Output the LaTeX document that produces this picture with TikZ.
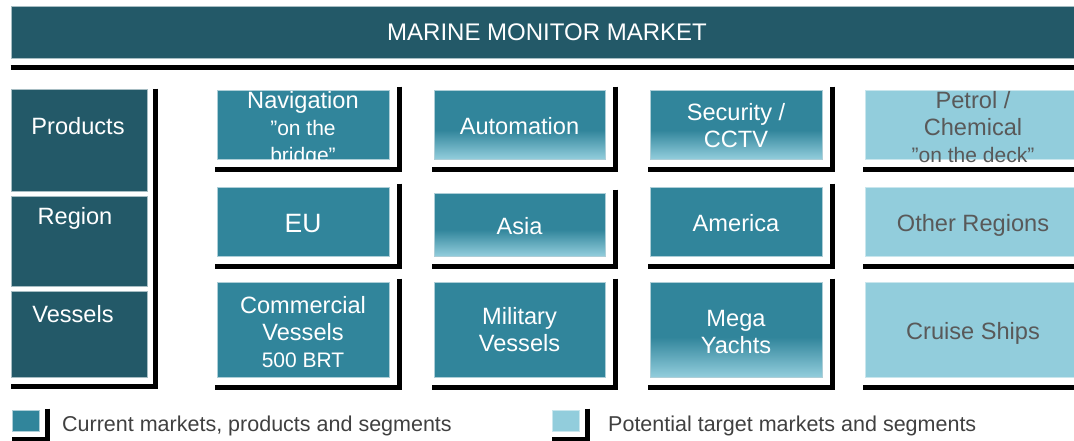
\documentclass[tikz,border=0pt]{standalone}
\usepackage{fontspec}
\setmainfont{Liberation Sans}
\usetikzlibrary{calc,positioning}
\definecolor{tdark}{RGB}{35,89,104}
\definecolor{tmid}{RGB}{49,133,155}
\definecolor{tlight}{RGB}{146,205,220}
\definecolor{tgray}{RGB}{89,89,89}
\definecolor{ktext}{RGB}{64,64,64}
\pgfdeclareverticalshading{tfade}{100bp}{color(0bp)=(tlight); color(25bp)=(tlight); color(46bp)=(tmid); color(100bp)=(tmid)}
\newcommand\subline{\fontsize{21}{26}\selectfont}

\begin{document}
\begin{tikzpicture}[x=1pt,y=-1pt,
every node/.style={inner sep=0pt,align=center,font=\fontsize{23.6}{27}\selectfont},
hdr/.style={fill=tdark,draw=tdark!40!white,line width=.6pt,text=white},
cur/.style={fill=tmid,draw=tmid!40!white,line width=.6pt},
curfade/.style={cur,shade,shading=tfade},
pot/.style={fill=tlight,draw=tlight!50!white,line width=.6pt},
wt/.style={text=white},
gt/.style={text=tgray},
lbl/.style={text=white,anchor=base},
key/.style={text=ktext,anchor=base west,font=\fontsize{21.5}{25}\selectfont},
shd/.style={line width=5pt,line join=miter}]
\useasboundingbox (0,0) rectangle (1074,440);
\node[hdr,minimum width=1072,minimum height=52,font=\fontsize{24}{28}\selectfont] (title) at (547,32) {MARINE MONITOR MARKET};
\draw[shd] ($(title.south west)+(0,9.5)$) -- ($(title.south east)+(0,9.5)$);

\node[hdr,minimum width=136,minimum height=102] (prod) at (79,140) {};
\node[hdr,minimum width=136,minimum height=90] (reg) at (79,241) {};
\node[hdr,minimum width=136,minimum height=86] (ves) at (79,334) {};
\node[lbl] (prodt) at (78,134) {Products};
\node[lbl] (regt) at (75,224.5) {Region};
\node[lbl] (vest) at (73,322) {Vessels};
\draw[shd] ($(prod.north east)+(8.5,0)$) |- ($(ves.south west)+(0,9.5)$);

\node[cur,minimum width=172,minimum height=69] (nav) at (303,124.5) {};
\node[curfade,minimum width=171,minimum height=69] (auto) at (519.5,124.5) {};
\node[curfade,minimum width=172,minimum height=69] (sec) at (736,124.5) {};
\node[pot,minimum width=216,minimum height=69] (petro) at (973,124.5) {};
\node[wt] (navt) at (303,129) {Navigation\\{\subline ”on the}\\{\subline bridge”}};
\node[wt] (autot) at ($(auto)+(0,2)$) {Automation};
\node[wt] (sect) at ($(sec)+(0,1)$) {Security /\\CCTV};
\node[gt] (petrot) at (973,127) {Petrol /\\Chemical\\{\subline ”on the deck”}};
\draw[shd] ($(nav.north east)+(10.5,-3)$) |- ($(nav.south west)+(-2,10.5)$)
 ($(auto.north east)+(10.5,-3)$) |- ($(auto.south west)+(-2,10.5)$)
 ($(sec.north east)+(10.5,-3)$) |- ($(sec.south west)+(-2,10.5)$)
 ($(petro.north east)+(10.5,-3)$) |- ($(petro.south west)+(-2,10.5)$);

\node[cur,minimum width=172,minimum height=69] (eu) at (303,221.5) {};
\node[curfade,minimum width=171,minimum height=63] (asia) at (519.5,224.5) {};
\node[cur,minimum width=172,minimum height=69] (amer) at (736,221.5) {};
\node[pot,minimum width=216,minimum height=69] (other) at (973,221.5) {};
\node[wt,font=\fontsize{26.5}{30}\selectfont] (eut) at ($(eu)+(0,2)$) {EU};
\node[wt] (asiat) at ($(asia)+(0,2)$) {Asia};
\node[wt] (amert) at ($(amer)+(0,2)$) {America};
\node[gt] (othert) at ($(other)+(0,4)$) {Other Regions};
\draw[shd] ($(eu.north east)+(10.5,-3)$) |- ($(eu.south west)+(-2,10.5)$)
 ($(asia.north east)+(10.5,-3)$) |- ($(asia.south west)+(-2,10.5)$)
 ($(amer.north east)+(10.5,-3)$) |- ($(amer.south west)+(-2,10.5)$)
 ($(other.north east)+(10.5,-3)$) |- ($(other.south west)+(-2,10.5)$);

\node[cur,minimum width=172,minimum height=95] (comm) at (303,329.5) {};
\node[cur,minimum width=171,minimum height=95] (mil) at (519.5,329.5) {};
\node[curfade,minimum width=172,minimum height=95] (mega) at (736,329.5) {};
\node[pot,minimum width=216,minimum height=95] (cruise) at (973,329.5) {};
\node[wt] (commt) at ($(comm)+(0,2.5)$) {Commercial\\Vessels\\{\subline 500 BRT}};
\node[wt] (milt) at ($(mil)+(0,0.5)$) {Military\\Vessels};
\node[wt] (megat) at ($(mega)+(0,2)$) {Mega\\Yachts};
\node[gt] (cruiset) at ($(cruise)+(0,4)$) {Cruise Ships};
\draw[shd] ($(comm.north east)+(10.5,-3)$) |- ($(comm.south west)+(-2,10.5)$)
 ($(mil.north east)+(10.5,-3)$) |- ($(mil.south west)+(-2,10.5)$)
 ($(mega.north east)+(10.5,-3)$) |- ($(mega.south west)+(-2,10.5)$)
 ($(cruise.north east)+(10.5,-3)$) |- ($(cruise.south west)+(-2,10.5)$);

\node[cur,minimum width=27,minimum height=21] (keycur) at (25.5,420.5) {};
\draw[shd] ($(keycur.north east)+(8.5,-1)$) |- ($(keycur.south west)+(0,8)$);
\node[key] (keycurt) at (62,431) {Current markets, products and segments};
\node[pot,minimum width=27,minimum height=21] (keypot) at (565.5,420.5) {};
\draw[shd] ($(keypot.north east)+(8.5,-1)$) |- ($(keypot.south west)+(0,8)$);
\node[key] (keypott) at (608,431) {Potential target markets and segments};
\end{tikzpicture}
\end{document}
